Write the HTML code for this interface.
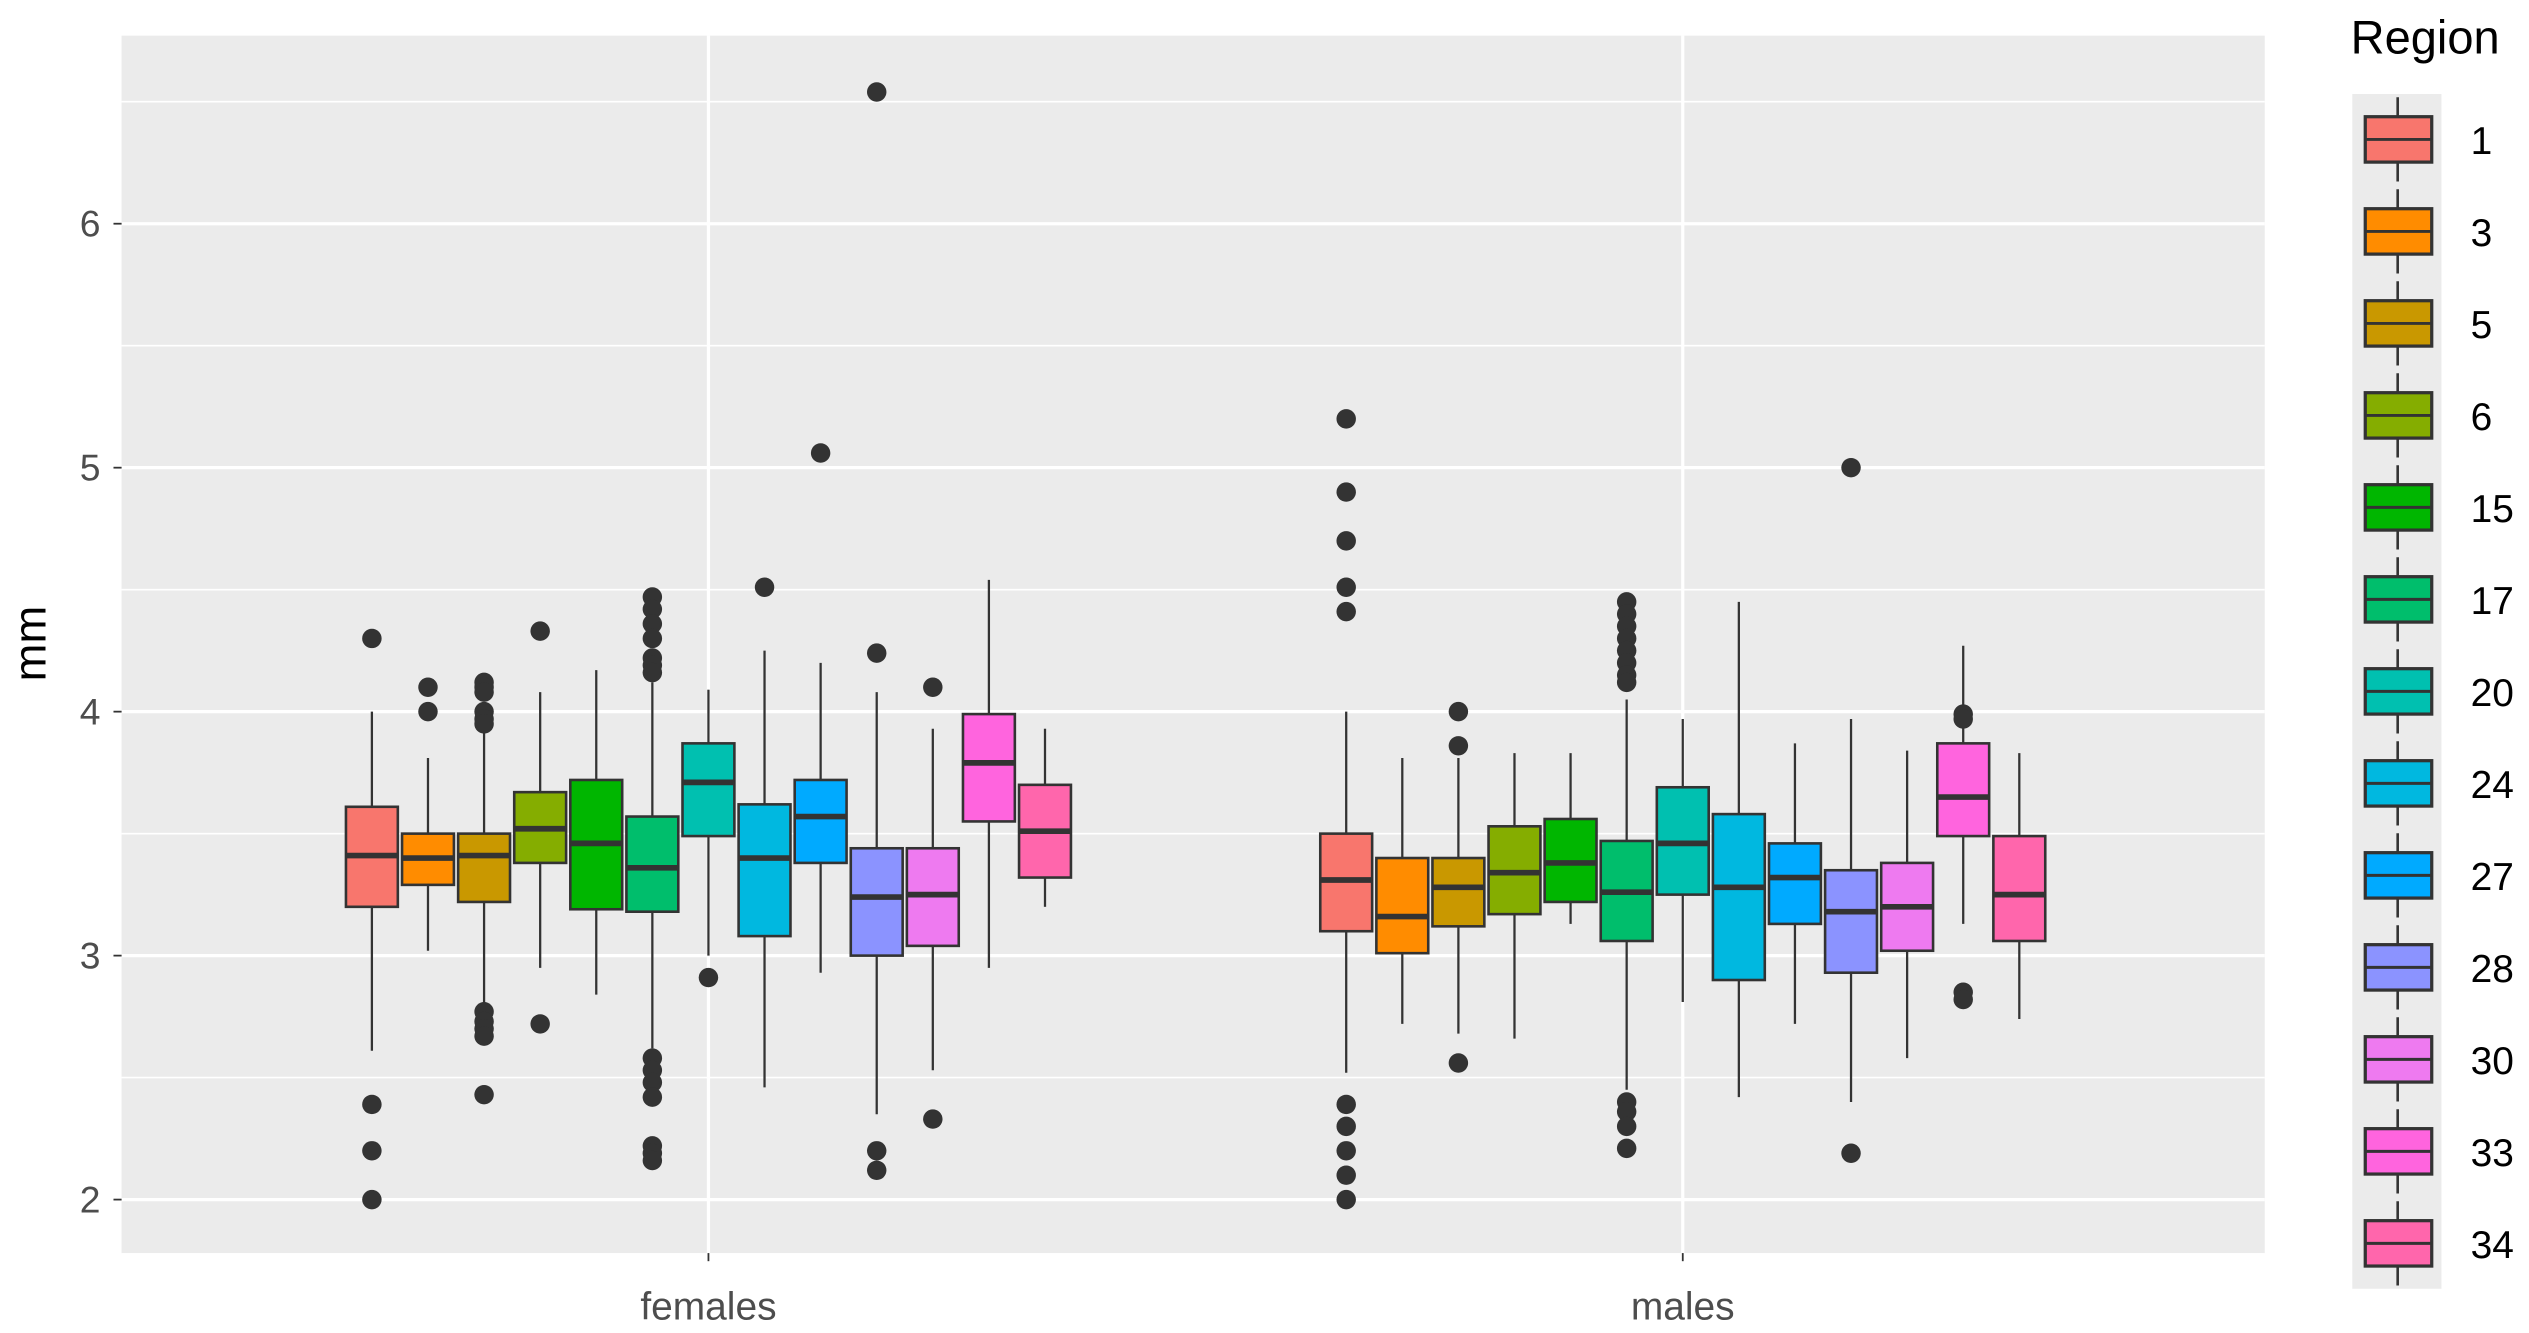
<!DOCTYPE html>
<html><head><meta charset="utf-8"><style>
html,body{margin:0;padding:0;background:#fff}
svg{display:block;font-family:"Liberation Sans",Arial,sans-serif}
</style></head><body>
<svg id="chart" width="2529" height="1333" viewBox="0 0 1560 822.3" preserveAspectRatio="none" xmlns="http://www.w3.org/2000/svg">
<rect x="0" y="0" width="1560" height="823" fill="#fff"/>
<rect x="75" y="22" width="1322" height="751" fill="#ebebeb"/>
<g id="grid"></g><g id="boxes"></g><g id="axes"></g><g id="legend"></g>
</svg>
<script>
const groups = ["females","males"];
const regions = ["1","3","5","6","15","17","20","24","27","28","30","33","34"];
const colors = ["#F8766D","#FF8C00","#C99800","#85AD00","#00B600","#00BE6C","#00C0B0","#00B8E0","#00AAFF","#8B93FF","#EE7AF0","#FF64DE","#FF66AC"];
const yTicks = [2,3,4,5,6];
// [wlo, q1, med, q3, whi]
const femStats = [
[2.61,3.20,3.41,3.61,4.00],[3.02,3.29,3.40,3.50,3.81],[2.80,3.22,3.41,3.50,3.92],[2.95,3.38,3.52,3.67,4.08],
[2.84,3.19,3.46,3.72,4.17],[2.62,3.18,3.36,3.57,4.12],[3.00,3.49,3.71,3.87,4.09],[2.46,3.08,3.40,3.62,4.25],
[2.93,3.38,3.57,3.72,4.20],[2.35,3.00,3.24,3.44,4.08],[2.53,3.04,3.25,3.44,3.93],[2.95,3.55,3.79,3.99,4.54],[3.20,3.32,3.51,3.70,3.93]];
const maleStats = [
[2.52,3.10,3.31,3.50,4.00],[2.72,3.01,3.16,3.40,3.81],[2.68,3.12,3.28,3.40,3.81],[2.66,3.17,3.34,3.53,3.83],
[3.13,3.22,3.38,3.56,3.83],[2.45,3.06,3.26,3.47,4.05],[2.81,3.25,3.46,3.69,3.97],[2.42,2.90,3.28,3.58,4.45],
[2.72,3.13,3.32,3.46,3.87],[2.40,2.93,3.18,3.35,3.97],[2.58,3.02,3.20,3.38,3.84],[3.13,3.49,3.65,3.87,4.27],[2.74,3.06,3.25,3.49,3.83]];
const femOut = [[4.3,2.39,2.2,2.0],[4.1,4.0],[4.12,4.1,4.08,4.0,3.97,3.95,2.77,2.73,2.7,2.67,2.43],[4.33,2.72],[],
[4.47,4.42,4.36,4.3,4.22,4.19,4.16,2.58,2.53,2.48,2.42,2.22,2.19,2.16],[2.91],[4.51],[5.06],[6.54,4.24,2.2,2.12],[4.1,2.33],[],[]];
const maleOut = [[5.2,4.9,4.7,4.51,4.41,2.39,2.3,2.2,2.1,2.0],[],[4.0,3.86,2.56],[],[],
[4.45,4.4,4.35,4.3,4.25,4.2,4.15,4.12,2.4,2.36,2.3,2.21],[],[],[],[5.0,2.19],[],[3.99,3.97,2.85,2.82],[]];
const NS="http://www.w3.org/2000/svg";
const yS = v => 740 - (v-2)*150.5;
const groupX = g => 437 + g*601;
const boxX = (g,i) => groupX(g) + (i-6)*34.6;
const BW = 32;
function mk(tag, attrs, parent){const e=document.createElementNS(NS,tag);for(const k in attrs)e.setAttribute(k,attrs[k]);parent.appendChild(e);return e;}
const grid=document.getElementById('grid');
for(let v=1.5; v<=6.5; v+=0.5){ if(v<1.75) continue; const l=mk('line',{x1:75,x2:1397,y1:yS(v),y2:yS(v),stroke:'#fff','stroke-width':(v%1===0)?2:1},grid);

}
groups.forEach((g,gi)=>{const l=mk('line',{x1:groupX(gi),x2:groupX(gi),y1:22,y2:773,stroke:'#fff','stroke-width':2},grid);

});
const boxes=document.getElementById('boxes');
[femStats,maleStats].forEach((stats,gi)=>{
  const outs = gi===0?femOut:maleOut;
  stats.forEach((s,i)=>{
    const cx=boxX(gi,i);
    const bg=mk('g',{},boxes);
    
    
    mk('line',{x1:cx,x2:cx,y1:yS(s[0]),y2:yS(s[1]),stroke:'#333','stroke-width':1.4},bg);
    mk('line',{x1:cx,x2:cx,y1:yS(s[3]),y2:yS(s[4]),stroke:'#333','stroke-width':1.4},bg);
    mk('rect',{x:cx-BW/2,y:yS(s[3]),width:BW,height:yS(s[1])-yS(s[3]),fill:colors[i],stroke:'#333','stroke-width':1.6},bg);
    mk('line',{x1:cx-BW/2,x2:cx+BW/2,y1:yS(s[2]),y2:yS(s[2]),stroke:'#333','stroke-width':3.5},bg);
    outs[i].forEach(o=>{const c=mk('circle',{cx:cx,cy:yS(o),r:6,fill:'#333'},bg);
      
      });
  });
});
const axes=document.getElementById('axes');
yTicks.forEach(v=>{
  mk('line',{x1:70,x2:75,y1:yS(v),y2:yS(v),stroke:'#333','stroke-width':1.1},axes);
  const t=mk('text',{x:62,y:yS(v)+8,'text-anchor':'end','font-size':23,fill:'#4d4d4d'},axes);
  t.textContent=v;
  
  
});
groups.forEach((g,gi)=>{
  mk('line',{x1:groupX(gi),x2:groupX(gi),y1:773,y2:778,stroke:'#333','stroke-width':1.1},axes);
  const t=mk('text',{x:groupX(gi),y:814,'text-anchor':'middle','font-size':24,fill:'#4d4d4d'},axes);
  t.textContent=g;
  
  
});
const yt=mk('text',{x:0,y:0,transform:'translate(28,397) rotate(-90)','text-anchor':'middle','font-size':28,fill:'#000'},axes);
yt.textContent='mm';


const leg=document.getElementById('legend');


const lt=mk('text',{x:1450,y:33,'font-size':29,fill:'#000'},leg);
lt.textContent='Region';


mk('rect',{x:1451,y:58,width:55,height:737,fill:'#ebebeb'},leg);
regions.forEach((r,i)=>{
  const cy=86+i*56.75;
  const e=mk('g',{},leg);
  
  
  mk('line',{x1:1479,x2:1479,y1:cy-26,y2:cy+26,stroke:'#333','stroke-width':1.6},e);
  mk('rect',{x:1459,y:cy-14,width:41,height:28,fill:colors[i],stroke:'#333','stroke-width':2},e);
  mk('line',{x1:1459,x2:1500,y1:cy,y2:cy,stroke:'#333','stroke-width':1.8},e);
  const t=mk('text',{x:1524,y:cy+9,'font-size':24,fill:'#000'},e);
  t.textContent=r;
});
</script>
</body></html>
